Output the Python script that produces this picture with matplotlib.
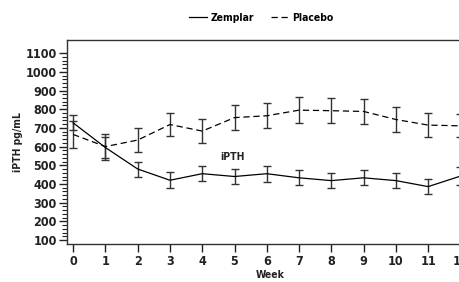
import numpy as np
import matplotlib
matplotlib.use('Agg')
import matplotlib.pyplot as plt
from matplotlib.ticker import FixedLocator

plt.rcParams['font.family'] = ['Liberation Sans Narrow', 'DejaVu Sans']
plt.rcParams['font.stretch'] = 'condensed'
plt.rcParams['font.weight'] = 'bold'
plt.rcParams['axes.labelweight'] = 'bold'

# Data
weeks = list(range(0, 13))
zemplar = [727, 595, 480, 420, 455, 440, 455, 433, 418, 433, 418, 386, 442]
zemplar_err = [40, 55, 40, 42, 40, 42, 42, 41, 42, 41, 42, 42, 48]
placebo = [665, 600, 635, 718, 683, 755, 765, 795, 792, 788, 745, 715, 711]
placebo_err = [70, 70, 65, 62, 66, 67, 68, 68, 66, 68, 67, 66, 62]
y_major = [100, 200, 300, 400, 500, 600, 700, 800, 900, 1000, 1100]
y_minor = [v for v in range(100, 1101, 20) if v % 100 != 0]

ink = '#222222'
fig = plt.figure(figsize=(4.6, 2.82), dpi=100)
# the axes run past the right edge, as in the reference
ax = fig.add_axes([0.1457, 0.1348, 1.029 - 0.1457, 0.858 - 0.1348])

ax.errorbar(weeks, zemplar, yerr=zemplar_err, color='black', lw=0.9,
            ecolor='#333333', elinewidth=1.0, capsize=3, capthick=1.0,
            label='Zemplar', zorder=3)
ax.errorbar(weeks, placebo, yerr=placebo_err, color='black', lw=0.9,
            ls=(0, (5, 3)), ecolor='#333333', elinewidth=1.0, capsize=3,
            capthick=1.0, label='Placebo', zorder=3)

ax.text(4.95, 545, 'iPTH', ha='center', va='center', fontsize=7.5,
        color=ink, fontweight='bold')

ax.set_xlim(-0.19, 12.4)
ax.set_ylim(79, 1170)
ax.set_xticks(weeks)
ax.yaxis.set_major_locator(FixedLocator(y_major))
ax.yaxis.set_minor_locator(FixedLocator(y_minor))

ax.tick_params(axis='both', which='major', labelsize=9, colors=ink,
               direction='out', width=1.0)
ax.tick_params(axis='y', which='major', length=5.5, pad=2)
ax.tick_params(axis='y', which='minor', length=3.5, width=0.8, color=ink)
ax.tick_params(axis='x', which='major', length=6, pad=2)

for side in ['left', 'bottom', 'top']:
    ax.spines[side].set_color('#333333')
    ax.spines[side].set_linewidth(1.0)
ax.spines['right'].set_visible(False)

ax.set_xlabel('Week', fontsize=7.5, color=ink, labelpad=1.5)
ax.set_ylabel('iPTH pg/mL', fontsize=7.5, color=ink, labelpad=2)

handles, labels = ax.get_legend_handles_labels()
handles = [h[0] for h in handles]
fig.legend(handles, labels, loc='center', bbox_to_anchor=(0.568, 0.936),
           ncol=2, frameon=False, fontsize=7.5, handlelength=1.8,
           handletextpad=0.3, columnspacing=1.6)

plt.savefig('out.png', dpi=100)
